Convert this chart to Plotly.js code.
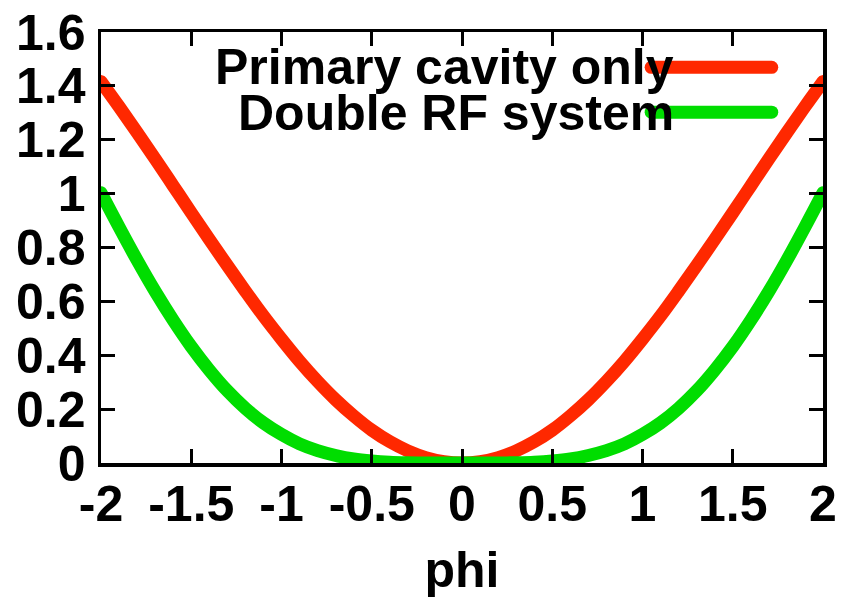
<!DOCTYPE html>
<html>
<head>
<meta charset="utf-8">
<script src="https://cdn.plot.ly/plotly-3.0.1.min.js"></script>
<style>
  html, body { margin: 0; padding: 0; background: #ffffff; }
  #chart { width: 848px; height: 598px; }
</style>
</head>
<body>
<div id="chart"></div>
<script>
// Synchrotron potential well versus phase
const phi = [-2.0, -1.9, -1.8, -1.7, -1.6, -1.5, -1.4, -1.3, -1.2, -1.1, -1.0,
             -0.9, -0.8, -0.7, -0.6, -0.5, -0.4, -0.3, -0.2, -0.1, 0.0,
              0.1, 0.2, 0.3, 0.4, 0.5, 0.6, 0.7, 0.8, 0.9, 1.0,
              1.1, 1.2, 1.3, 1.4, 1.5, 1.6, 1.7, 1.8, 1.9, 2.0];

const primaryOnly = [1.416, 1.323, 1.227, 1.129, 1.029, 0.929, 0.830, 0.733, 0.638, 0.546, 0.460,
                     0.378, 0.303, 0.235, 0.175, 0.122, 0.079, 0.045, 0.020, 0.005, 0.000,
                     0.005, 0.020, 0.045, 0.079, 0.122, 0.175, 0.235, 0.303, 0.378, 0.460,
                     0.546, 0.638, 0.733, 0.830, 0.929, 1.029, 1.129, 1.227, 1.323, 1.416];

const doubleRF = [1.003, 0.876, 0.753, 0.637, 0.530, 0.432, 0.345, 0.268, 0.203, 0.149, 0.106,
                  0.071, 0.046, 0.028, 0.015, 0.0075, 0.003, 0.001, 0.0002, 0.0000, 0.000,
                  0.0000, 0.0002, 0.001, 0.003, 0.0075, 0.015, 0.028, 0.046, 0.071, 0.106,
                  0.149, 0.203, 0.268, 0.345, 0.432, 0.530, 0.637, 0.753, 0.876, 1.003];

const seriesNames = ['Primary cavity only', 'Double RF system'];
const seriesColors = ['#ff2800', '#00dd00'];

const xTicks = [-2, -1.5, -1, -0.5, 0, 0.5, 1, 1.5, 2];
const xTickText = ['-2', '-1.5', '-1', '-0.5', '0', '0.5', '1', '1.5', '2'];
const yTicks = [0, 0.2, 0.4, 0.6, 0.8, 1, 1.2, 1.4, 1.6];
const yTickText = ['0', '0.2', '0.4', '0.6', '0.8', '1', '1.2', '1.4', '1.6'];

const FONT = 'Liberation Sans, Arial, Helvetica, sans-serif';
const FS = 50;
const LW = 13;

const traces = [primaryOnly, doubleRF].map((ys, i) => ({
  x: phi,
  y: ys,
  type: 'scatter',
  mode: 'lines',
  name: seriesNames[i],
  line: { color: seriesColors[i], width: LW, shape: 'spline', smoothing: 1 },
  cliponaxis: false,
  showlegend: false,
  hoverinfo: 'skip'
}));

// Key in the gnuplot style: text right-aligned, sample line to its right
const keyText = [0.918, 0.813];
const keyLine = [0.918, 0.814];
const annotations = seriesNames.map((name, i) => ({
  xref: 'paper', yref: 'paper',
  x: 0.797, y: keyText[i],
  xanchor: 'right', yanchor: 'middle',
  text: '<b>' + name + '</b>',
  showarrow: false,
  font: { family: FONT, size: FS, color: '#000000' }
}));
const shapes = seriesNames.map((name, i) => ({
  type: 'line', xref: 'paper', yref: 'paper',
  x0: 0.762, x1: 0.929, y0: keyLine[i], y1: keyLine[i],
  line: { color: seriesColors[i], width: LW },
  layer: 'above'
}));

const axisCommon = {
  showline: true, mirror: 'ticks', linecolor: '#000000', linewidth: 3.5,
  ticks: 'inside', ticklen: 14, tickwidth: 3, tickcolor: '#000000',
  showgrid: false, zeroline: false,
  tickfont: { family: FONT, size: FS, color: '#000000', weight: 'bold' },
  tickmode: 'array', fixedrange: true
};

const layout = {
  width: 848, height: 598,
  margin: { l: 101, r: 25, t: 32, b: 135 },
  paper_bgcolor: '#ffffff', plot_bgcolor: '#ffffff',
  showlegend: false,
  xaxis: Object.assign({}, axisCommon, {
    range: [-2, 2], tickvals: xTicks, ticktext: xTickText,
    ticklabelstandoff: -6,
    title: { text: '<b>phi</b>', font: { family: FONT, size: FS, color: '#000000' }, standoff: 22 }
  }),
  yaxis: Object.assign({}, axisCommon, {
    range: [0, 1.6], tickvals: yTicks, ticktext: yTickText,
    ticklabelstandoff: 2
  }),
  annotations: annotations,
  shapes: shapes
};

Plotly.newPlot('chart', traces, layout, { staticPlot: true, displayModeBar: false }).then(() => {
  // round line ends and let the thick curves spill over the frame edge
  document.querySelectorAll('.scatterlayer path.js-line').forEach(p => {
    p.style.strokeLinecap = 'round';
  });
  document.querySelectorAll('.shapelayer path').forEach(p => {
    p.style.strokeLinecap = 'round';
  });
  document.querySelectorAll('g.plot').forEach(g => g.removeAttribute('clip-path'));
});
</script>
</body>
</html>
